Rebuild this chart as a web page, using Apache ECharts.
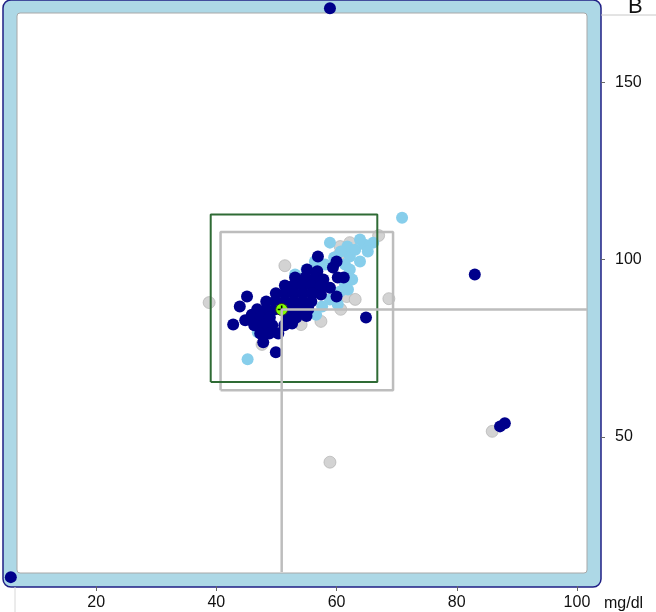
<!DOCTYPE html>
<html>
<head>
<meta charset="utf-8">
<script src="https://cdn.jsdelivr.net/npm/echarts@6/dist/echarts.min.js"></script>
<style>
  html, body { margin: 0; padding: 0; background: #fff; }
  #main { width: 656px; height: 612px; }
</style>
</head>
<body>
<div id="main"></div>
<script>
// ticks shown on the axes
var xTicks = [20, 40, 60, 80, 100];
var yTicks = [50, 100, 150];

// axis ranges (the light blue band is the out-of-range area)
var X_MIN = 4.5, X_MAX = 104;
var Y_MIN = 8, Y_MAX = 173.2;

// mean point and the two boxes [x1, y1, x2, y2]
var meanPt = [50.87, 85.95];
var greenBox = [39.06, 65.5, 66.78, 112.7];
var greyBox = [40.7, 63.2, 69.4, 107.8];

// points, drawn grey first, then light blue, then navy on top
var greyPts = [
    [38.8, 87.9], [51.4, 98.3], [68.7, 89.0], [67.0, 106.8], [60.6, 103.7],
    [61.7, 89.6], [60.7, 86.0], [57.4, 82.6], [54.1, 81.7], [47.6, 76.1],
    [58.9, 42.9], [85.9, 51.6], [60.4, 101.4], [62.2, 104.8], [63.1, 88.8],
    [53.4, 87.3], [49.4, 80.3]
];

var skyPts = [
    [70.9, 111.8], [66.1, 104.8], [58.9, 104.8], [61.8, 103.7], [63.9, 99.5],
    [62.2, 100.9], [63.1, 102.8], [60.7, 102.3], [59.6, 100.6], [61.4, 98.6],
    [62.2, 97.2], [62.6, 94.4], [61.4, 93.0], [60.6, 91.0], [61.9, 91.6],
    [58.1, 98.6], [56.4, 99.5], [53.1, 95.8], [55.0, 97.2], [60.2, 87.4],
    [56.6, 84.5], [57.6, 86.8], [58.9, 88.8], [46.9, 79.5], [45.2, 71.9],
    [47.2, 84.5], [64.7, 104.2], [65.2, 102.3], [63.9, 105.7]
];

var navyPts = [
    [56.9, 100.9], [60.0, 99.5], [59.4, 97.8], [60.2, 95.0], [61.2, 95.0],
    [58.9, 92.1], [60.0, 89.6], [64.9, 83.7], [45.1, 89.6], [43.9, 86.8],
    [42.8, 81.7], [44.8, 82.9], [45.9, 84.5], [47.8, 76.7], [49.9, 73.9],
    [83.0, 95.8], [87.2, 53.0], [88.0, 53.9], [58.9, 170.9], [5.8, 10.5],
    [55.1, 97.2], [56.8, 96.7],
    [53.1, 95.0], [54.8, 95.0], [56.4, 95.0], [57.8, 94.4],
    [51.4, 92.7], [52.8, 92.7], [54.3, 92.7], [55.8, 92.7], [57.3, 92.4],
    [49.9, 90.5], [51.4, 90.5], [52.9, 90.5], [54.4, 90.5], [55.9, 90.5], [57.4, 90.2],
    [48.3, 88.2], [49.8, 88.2], [51.3, 88.2], [52.8, 88.2], [54.3, 88.2], [55.8, 88.2],
    [46.8, 86.0], [48.3, 86.0], [49.8, 86.0], [52.3, 86.0], [53.8, 86.0], [55.3, 86.0],
    [45.9, 83.7], [47.4, 83.7], [48.9, 83.7], [51.8, 83.7], [53.3, 83.7],
    [46.3, 81.5], [47.8, 81.5], [49.3, 81.5], [51.3, 81.5], [52.6, 82.0],
    [47.3, 79.2], [48.8, 79.2], [50.3, 79.2], [55.0, 84.1], [52.3, 82.3]
];

// layout of the plot frame
var GRID = { left: 3, top: 0, width: 598, height: 587 };
var BAND = 14, BAND_TOP = 13;

var innerRight = X_MAX - BAND * (X_MAX - X_MIN) / GRID.width;
var innerBottom = Y_MIN + BAND * (Y_MAX - Y_MIN) / GRID.height;

// closed outline of a box as a polyline
function boxPath(b) {
    return [[b[0], b[1]], [b[2], b[1]], [b[2], b[3]], [b[0], b[3]], [b[0], b[1]]];
}

var chart = echarts.init(document.getElementById('main'));

var option = {
    animation: false,
    title: {
        text: 'B',
        left: 623,
        top: -9,
        textStyle: { fontFamily: 'Liberation Sans, Arial', fontSize: 22, fontWeight: 'normal', color: '#111' }
    },
    grid: {
        left: GRID.left,
        top: GRID.top,
        width: GRID.width,
        height: GRID.height
    },
    graphic: [
        {
            type: 'rect', z: -10, silent: true,
            shape: { x: GRID.left, y: GRID.top, width: GRID.width, height: GRID.height, r: 8 },
            style: { fill: '#add8e6', stroke: '#1f1f85', lineWidth: 1.5 }
        },
        {
            type: 'rect', z: -9, silent: true,
            shape: {
                x: GRID.left + BAND, y: GRID.top + BAND_TOP,
                width: GRID.width - 2 * BAND, height: GRID.height - BAND - BAND_TOP, r: 3
            },
            style: { fill: '#ffffff', stroke: '#a8a8a8', lineWidth: 1 }
        },
        {
            type: 'line', z: -10, silent: true,
            shape: { x1: GRID.left + GRID.width, y1: 15, x2: 656, y2: 15 },
            style: { stroke: '#c8c8c8', lineWidth: 1 }
        },
        {
            type: 'line', z: -10, silent: true,
            shape: { x1: 15, y1: GRID.top + GRID.height, x2: 15, y2: 612 },
            style: { stroke: '#d8d8d8', lineWidth: 1 }
        }
    ],
    xAxis: {
        type: 'value',
        min: X_MIN,
        max: X_MAX,
        name: 'mg/dl',
        nameLocation: 'end',
        nameGap: 3,
        nameTextStyle: {
            fontFamily: 'Liberation Sans, Arial', fontSize: 16, color: '#111',
            verticalAlign: 'top', align: 'left', padding: [10, 0, 0, 0]
        },
        axisLine: { show: false },
        axisTick: { show: true, length: 5, lineStyle: { color: '#666' }, customValues: xTicks },
        axisLabel: {
            margin: 9, fontFamily: 'Liberation Sans, Arial', fontSize: 16, color: '#111',
            customValues: xTicks
        },
        splitLine: { show: false }
    },
    yAxis: {
        type: 'value',
        position: 'right',
        min: Y_MIN,
        max: Y_MAX,
        axisLine: { show: false },
        axisTick: { show: true, length: 4, lineStyle: { color: '#666' }, customValues: yTicks },
        axisLabel: {
            margin: 14, fontFamily: 'Liberation Sans, Arial', fontSize: 16, color: '#111',
            customValues: yTicks
        },
        splitLine: { show: false }
    },
    series: [
        {
            name: 'greyBox',
            type: 'line',
            symbol: 'none',
            silent: true,
            data: boxPath(greyBox),
            lineStyle: { color: '#bdbdbd', width: 2.5 }
        },
        {
            name: 'greenBox',
            type: 'line',
            symbol: 'none',
            silent: true,
            data: boxPath(greenBox),
            lineStyle: { color: '#2f6b35', width: 2 }
        },
        {
            name: 'cross',
            type: 'line',
            symbol: 'none',
            silent: true,
            data: [[meanPt[0], innerBottom], meanPt, [innerRight, meanPt[1]]],
            lineStyle: { color: '#bdbdbd', width: 2.5 }
        },
        {
            name: 'grey',
            type: 'scatter',
            symbolSize: 12,
            data: greyPts,
            itemStyle: { color: '#d3d3d3', borderColor: '#a9a9a9', borderWidth: 0.6, opacity: 1 }
        },
        {
            name: 'sky',
            type: 'scatter',
            symbolSize: 12,
            data: skyPts,
            itemStyle: { color: '#87ceeb', opacity: 1 }
        },
        {
            name: 'navy',
            type: 'scatter',
            symbolSize: 12,
            data: navyPts,
            itemStyle: { color: '#00008b', opacity: 1 }
        },
        {
            name: 'mean',
            type: 'scatter',
            symbolSize: 12,
            data: [meanPt],
            itemStyle: { color: '#7fff00', borderColor: '#2a2a2a', borderWidth: 1, opacity: 1 }
        },
        {
            name: 'meanPlus',
            type: 'scatter',
            symbol: 'path://M4,0H6V4H10V6H6V10H4V6H0V4H4Z',
            symbolSize: 8,
            data: [meanPt],
            itemStyle: { color: '#000', opacity: 1 }
        }
    ]
};

chart.setOption(option);
</script>
</body>
</html>
